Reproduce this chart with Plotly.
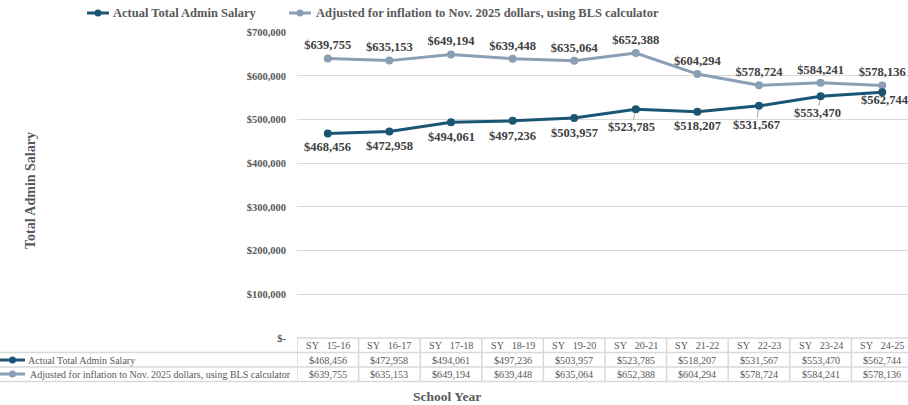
import plotly.graph_objects as go

# ---------------- data ----------------
school_years = ["SY 15-16", "SY 16-17", "SY 17-18", "SY 18-19", "SY 19-20",
                "SY 20-21", "SY 21-22", "SY 22-23", "SY 23-24", "SY 24-25"]
actual_salary = [468456, 472958, 494061, 497236, 503957,
                 523785, 518207, 531567, 553470, 562744]
adjusted_salary = [639755, 635153, 649194, 639448, 635064,
                   652388, 604294, 578724, 584241, 578136]
series_names = ["Actual Total Admin Salary",
                "Adjusted for inflation to Nov. 2025 dollars, using BLS calculator"]
y_ticks = [0, 100000, 200000, 300000, 400000, 500000, 600000, 700000]
y_title = "Total Admin Salary"
x_title = "School Year"

# label placement for the actual-salary labels (pixel offsets, leader line flag)
actual_label_dx = [0, 0, 0, 0, 0, -4, 0, -3, -3, 3]
actual_label_dy = [14, 15, 15, 15, 15, 18, 14, 19, 17, 8]
actual_label_leader = [False, False, False, False, False, True, False, True, True, False]

# ---------------- style ----------------
W, H = 908, 405
FONT = "Liberation Serif, Times New Roman, serif"
DARK = "#1a5673"
LIGHT = "#8a9fb3"
GRID = "#d9d9d9"
TXT = "#595959"
LBL = "#404040"
LEADER = "#a6a6a6"

def px(x):
    return x / W

def py(y):
    return 1 - y / H

def money(v):
    return "$-" if v == 0 else "${:,.0f}".format(v)

def cat_label(s):
    return s.replace(" ", "\u00a0\u00a0\u00a0")

n = len(school_years)
idx = list(range(n))
col_w = 61.6
x_left = 297
x_right_range = -0.5 + (W - x_left) / col_w

fig = go.Figure()

fig.add_trace(go.Scatter(
    x=idx, y=adjusted_salary, mode="lines+markers+text",
    name=series_names[1],
    line=dict(color=LIGHT, width=3), marker=dict(color=LIGHT, size=8),
    text=[money(v) for v in adjusted_salary], textposition="top center",
    textfont=dict(family=FONT, size=12.5, color=LBL, weight="bold"),
    cliponaxis=False, showlegend=False, hoverinfo="skip",
))
fig.add_trace(go.Scatter(
    x=idx, y=actual_salary, mode="lines+markers",
    name=series_names[0],
    line=dict(color=DARK, width=3), marker=dict(color=DARK, size=8),
    cliponaxis=False, showlegend=False, hoverinfo="skip",
))

shapes = []
annotations = []

def note(x, y, text, size, color, bold=False, xanchor="center", yanchor="middle",
         xref="paper", angle=0):
    f = dict(family=FONT, size=size, color=color)
    if bold:
        f["weight"] = "bold"
    annotations.append(dict(xref=xref, yref="paper", x=x, y=y, text=text,
                            showarrow=False, xanchor=xanchor, yanchor=yanchor,
                            textangle=angle, font=f, borderpad=0))

# ---- labels for the actual salary series (with leader lines where moved) ----
for i, v in enumerate(actual_salary):
    annotations.append(dict(
        xref="x", yref="y", x=i, y=v, text=money(v),
        showarrow=True, arrowhead=0, arrowwidth=1,
        arrowcolor=LEADER if actual_label_leader[i] else "rgba(0,0,0,0)",
        standoff=4, ax=actual_label_dx[i], ay=actual_label_dy[i],
        xanchor="center", yanchor="middle", borderpad=0,
        font=dict(family=FONT, size=12.5, color=LBL, weight="bold"),
    ))

# ---- legend (top) ----
legend_items = [(87, 109, 112, series_names[0], DARK),
                (289, 311, 315, series_names[1], LIGHT)]
for x0, x1, xt, name, col in legend_items:
    shapes.append(dict(type="line", xref="paper", yref="paper",
                       x0=px(x0), x1=px(x1), y0=py(13), y1=py(13),
                       line=dict(color=col, width=3)))
    cx = (x0 + x1) / 2
    shapes.append(dict(type="circle", xref="paper", yref="paper",
                       x0=px(cx - 3.5), x1=px(cx + 3.5), y0=py(16.5), y1=py(9.5),
                       fillcolor=col, line=dict(color=col, width=0)))
    note(px(xt), py(13), name, 12.5, TXT, bold=True, xanchor="left")

# ---- data table ----
row_y = [345, 360, 374]
lines_y = [338, 352.5, 367, 381.5]
for k, yl in enumerate(lines_y):
    shapes.append(dict(type="line", xref="paper", yref="paper",
                       x0=px(x_left) if k == 0 else 0, x1=1, y0=py(yl), y1=py(yl),
                       line=dict(color=GRID, width=1.5)))
for i in range(n):
    shapes.append(dict(type="line", xref="x", yref="paper",
                       x0=i - 0.5, x1=i - 0.5, y0=py(lines_y[0]), y1=py(lines_y[-1]),
                       line=dict(color=GRID, width=1.5)))
    note(i, py(row_y[0]), cat_label(school_years[i]), 10.2, TXT, xref="x")
    note(i, py(row_y[1]), money(actual_salary[i]), 10.2, TXT, xref="x")
    note(i, py(row_y[2]), money(adjusted_salary[i]), 10.2, TXT, xref="x")

for ry, name, col, tx in [(row_y[1], series_names[0], DARK, 27),
                          (row_y[2], series_names[1], LIGHT, 29)]:
    shapes.append(dict(type="line", xref="paper", yref="paper",
                       x0=0, x1=px(25), y0=py(ry), y1=py(ry),
                       line=dict(color=col, width=3)))
    shapes.append(dict(type="circle", xref="paper", yref="paper",
                       x0=px(9), x1=px(16), y0=py(ry + 3.5), y1=py(ry - 3.5),
                       fillcolor=col, line=dict(color=col, width=0)))
    note(px(tx), py(ry), name, 10, TXT, xanchor="left")

# ---- axis titles ----
note(px(30), py(191), y_title, 14, TXT, bold=True, angle=-90)
note(px(447), py(396), x_title, 13.5, TXT, bold=True)

fig.update_layout(
    width=W, height=H, autosize=False,
    margin=dict(l=0, r=0, t=0, b=0, pad=0, autoexpand=False),
    paper_bgcolor="white", plot_bgcolor="white",
    shapes=shapes, annotations=annotations,
    xaxis=dict(domain=[px(x_left), 1], range=[-0.5, x_right_range],
               showticklabels=False, showgrid=False, zeroline=False,
               showline=False, ticks="", fixedrange=True, automargin=False),
    yaxis=dict(domain=[py(338), py(32.3)], range=[0, 700000],
               tickvals=y_ticks, ticktext=[money(v) for v in y_ticks],
               showgrid=True, gridcolor=GRID, gridwidth=1.3,
               zeroline=False, showline=False, ticks="",
               ticklabelstandoff=10, automargin=False, fixedrange=True,
               tickfont=dict(family=FONT, size=10.5, color=TXT, weight="bold")),
    showlegend=False,
    hovermode=False,
)

fig.write_html(
    "out.html",
    config={"displayModeBar": False, "responsive": False},
    post_script="document.body.style.margin='0';document.body.style.overflow='hidden';"
                "document.documentElement.style.overflow='hidden';",
)
